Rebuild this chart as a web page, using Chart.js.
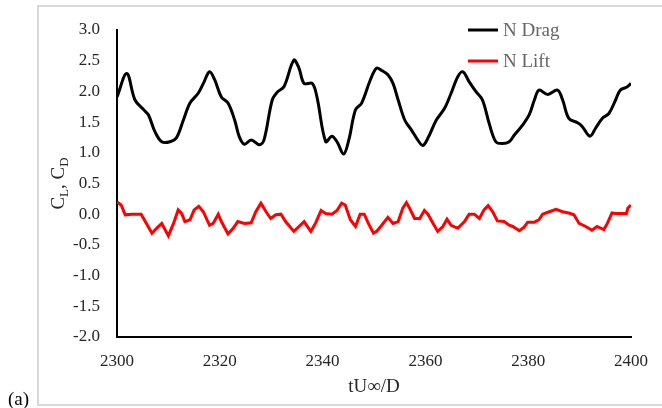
<!DOCTYPE html>
<html>
<head>
<meta charset="utf-8">
<script src="https://cdn.jsdelivr.net/npm/chart.js@4.4.1/dist/chart.umd.min.js"></script>
<style>
  html, body { margin: 0; padding: 0; background: #fff; }
  canvas { display: block; }
</style>
</head>
<body>
<canvas id="myChart" width="662" height="408"></canvas>
<script>
// values: time tU/D and the force coefficients
const dragTime = [2300, 2301.9, 2303.5, 2305.2, 2306.1, 2307.4, 2308.7, 2310.3, 2311.6, 2312.9,
  2314.2, 2315.8, 2316.8, 2318.0, 2319.0, 2320.3, 2321.6, 2322.9, 2323.8, 2324.8,
  2326.1, 2327.7, 2328.6, 2330.2, 2331.2, 2332.5, 2334.4, 2335.4, 2336.4, 2338.0,
  2338.9, 2340.6, 2341.8, 2342.8, 2344.1, 2345.1, 2346.4, 2347.6, 2349.3, 2350.5,
  2351.5, 2352.7, 2353.7, 2354.7, 2356.0, 2357.3, 2358.5, 2359.5, 2360.5, 2362.1,
  2363.7, 2365.0, 2366.3, 2367.3, 2368.5, 2369.8, 2371.1, 2372.4, 2373.7, 2375.0,
  2376.3, 2377.3, 2378.9, 2380.2, 2381.2, 2382.1, 2383.8, 2385.7, 2386.7, 2387.9,
  2389.6, 2390.5, 2392.0, 2393.1, 2394.4, 2395.7, 2397.0, 2397.9, 2399.2, 2400]
const dragValues = [1.91, 2.29, 1.86, 1.70, 1.62, 1.34, 1.18, 1.18, 1.25, 1.53,
  1.81, 1.97, 2.13, 2.32, 2.19, 1.91, 1.81, 1.53, 1.26, 1.14,
  1.21, 1.13, 1.21, 1.86, 1.99, 2.08, 2.51, 2.38, 2.13, 2.13,
  1.91, 1.18, 1.27, 1.18, 0.98, 1.21, 1.70, 1.81, 2.19, 2.38,
  2.34, 2.27, 2.13, 1.86, 1.53, 1.37, 1.21, 1.12, 1.24, 1.53,
  1.72, 1.97, 2.24, 2.32, 2.16, 2.00, 1.86, 1.48, 1.18, 1.15,
  1.18, 1.29, 1.45, 1.62, 1.86, 2.02, 1.95, 2.02, 1.86, 1.56,
  1.49, 1.43, 1.27, 1.40, 1.56, 1.64, 1.86, 2.02, 2.07, 2.13]

const liftTime = [2300, 2300.8, 2301.6, 2302.9, 2304.7, 2305.5, 2306.8, 2307.7, 2308.7, 2310.0,
  2311.0, 2311.9, 2312.6, 2313.2, 2314.2, 2315.0, 2315.9, 2316.8, 2318.0, 2318.7,
  2319.7, 2320.3, 2321.6, 2322.6, 2323.5, 2324.8, 2326.1, 2327.0, 2328.0, 2329.0,
  2329.9, 2330.9, 2331.9, 2332.8, 2334.4, 2335.4, 2336.4, 2337.7, 2338.6, 2339.7,
  2340.6, 2341.8, 2342.8, 2343.7, 2344.4, 2345.4, 2346.4, 2347.3, 2348.1, 2348.9,
  2349.9, 2350.5, 2351.5, 2352.7, 2353.7, 2354.7, 2355.6, 2356.3, 2356.9, 2357.9,
  2358.9, 2359.8, 2360.5, 2361.5, 2362.4, 2363.4, 2364.2, 2365.0, 2366.3, 2367.6,
  2368.5, 2369.5, 2370.5, 2371.4, 2372.2, 2373.1, 2374.0, 2375.3, 2376.3, 2377.0,
  2378.3, 2379.2, 2379.9, 2381.2, 2382.1, 2382.8, 2384.1, 2385.4, 2386.7, 2387.9,
  2388.9, 2389.9, 2391.2, 2392.4, 2393.4, 2394.7, 2395.4, 2396.3, 2397.0, 2398.3,
  2399.1, 2399.4, 2400]
const liftValues = [0.20, 0.15, -0.01, 0.00, 0.00, -0.12, -0.31, -0.23, -0.15, -0.35,
  -0.15, 0.07, 0.01, -0.12, -0.09, 0.07, 0.13, 0.04, -0.18, -0.15,
  0.00, -0.12, -0.32, -0.23, -0.12, -0.15, -0.14, 0.04, 0.18, 0.04,
  -0.07, -0.01, 0.00, -0.12, -0.28, -0.20, -0.12, -0.28, -0.15, 0.06,
  0.01, 0.00, 0.06, 0.18, 0.15, -0.09, -0.20, 0.00, 0.00, -0.15,
  -0.31, -0.28, -0.18, -0.05, -0.15, -0.12, 0.10, 0.19, 0.10, -0.07,
  -0.07, 0.06, 0.00, -0.15, -0.28, -0.20, -0.08, -0.18, -0.23, -0.12,
  0.00, 0.00, -0.07, 0.07, 0.14, 0.04, -0.11, -0.12, -0.18, -0.20,
  -0.27, -0.21, -0.13, -0.13, -0.09, 0.00, 0.04, 0.08, 0.04, 0.02,
  -0.01, -0.15, -0.20, -0.26, -0.20, -0.25, -0.15, 0.02, 0.01, 0.01,
  0.01, 0.10, 0.15]

const seriesNames = ["N Drag", "N Lift"]
const xTitle = "tU\u221E/D"
const panelTag = "(a)"

const serif = "'Liberation Serif', 'Times New Roman', serif"

// grey frame, panel tag, axis titles and the legend at the top right
const extras = {
  id: "extras",
  beforeDraw(chart) {
    const c = chart.ctx
    c.save()
    c.strokeStyle = "#d9d9d9"
    c.lineWidth = 2
    c.strokeRect(38, 6, 640, 399)
    c.restore()
  },
  afterDraw(chart) {
    const c = chart.ctx
    const area = chart.chartArea
    c.save()
    c.fillStyle = "#000"
    c.font = "19px " + serif
    c.textBaseline = "alphabetic"
    c.textAlign = "left"
    c.fillText(panelTag, 8, 405)

    // x title
    c.fillStyle = "#262626"
    c.textAlign = "center"
    c.fillText(xTitle, (area.left + area.right) / 2, 392)

    // y title C_L, C_D
    c.translate(64, (area.top + area.bottom) / 2)
    c.rotate(-Math.PI / 2)
    const parts = [["C", 19, 0], ["L", 13, 4], [", ", 19, 0], ["C", 19, 0], ["D", 13, 4]]
    let total = 0
    parts.forEach(p => { c.font = p[1] + "px " + serif; total += c.measureText(p[0]).width })
    let x = -total / 2
    c.textAlign = "left"
    parts.forEach(p => {
      c.font = p[1] + "px " + serif
      c.fillText(p[0], x, p[2])
      x += c.measureText(p[0]).width
    })
    c.restore()

    // legend
    c.save()
    c.font = "19px " + serif
    c.textBaseline = "middle"
    chart.data.datasets.forEach((ds, i) => {
      const y = 30 + i * 31
      c.strokeStyle = ds.borderColor
      c.lineWidth = 3
      c.beginPath()
      c.moveTo(468, y)
      c.lineTo(498, y)
      c.stroke()
      c.fillStyle = "#666"
      c.fillText(ds.label, 503, y + 1)
    })
    c.restore()
  },
}

const ctx = document.getElementById("myChart")
const myChart = new Chart(ctx, {
  type: "line",
  data: {
    datasets: [
      {
        label: seriesNames[0],
        data: dragTime.map((t, i) => ({ x: t, y: dragValues[i] })),
        borderColor: "#000000",
        borderWidth: 3,
        pointRadius: 0,
        tension: 0.35,
      },
      {
        label: seriesNames[1],
        data: liftTime.map((t, i) => ({ x: t, y: liftValues[i] })),
        borderColor: "#ff0000",
        borderWidth: 3,
        pointRadius: 0,
        tension: 0,
      },
    ],
  },
  options: {
    responsive: false,
    animation: false,
    devicePixelRatio: 1,
    layout: { padding: { top: 30, right: 28, left: 0, bottom: 0 } },
    scales: {
      x: {
        type: "linear",
        min: 2300,
        max: 2400,
        afterFit(scale) { scale.height = 71 },
        grid: { display: false, drawTicks: false },
        border: { display: true, color: "#000", width: 2 },
        ticks: {
          stepSize: 20,
          padding: 14,
          color: "#262626",
          font: { family: serif, size: 17 },
          callback: v => String(v),
        },
      },
      y: {
        min: -2,
        max: 3,
        afterFit(scale) { scale.width = 117 },
        grid: { display: false, drawTicks: false },
        border: { display: true, color: "#000", width: 2 },
        ticks: {
          stepSize: 0.5,
          padding: 17,
          color: "#262626",
          font: { family: serif, size: 17 },
          callback: v => v.toFixed(1),
        },
      },
    },
    plugins: {
      legend: { display: false },
      tooltip: { enabled: false },
    },
  },
  plugins: [extras],
})
</script>
</body>
</html>
